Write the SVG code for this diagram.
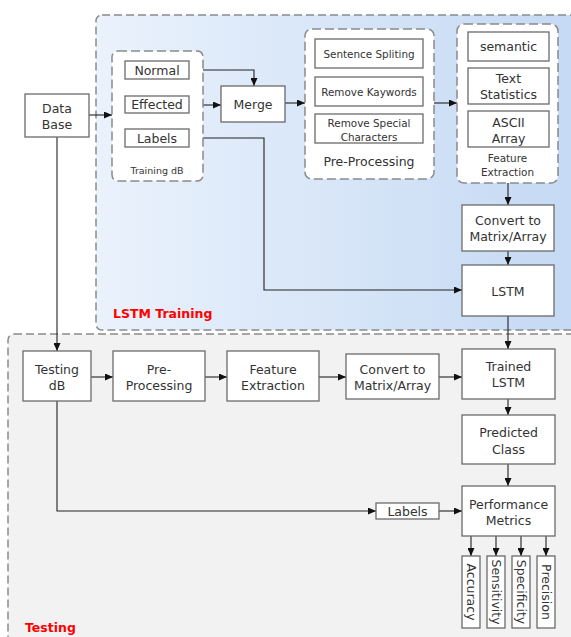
<svg xmlns="http://www.w3.org/2000/svg" width="571" height="637" viewBox="0 0 571 637">
  <defs>
    <linearGradient id="trainFill" x1="0" y1="0" x2="1" y2="0">
      <stop offset="0" stop-color="#eaf2fc"/>
      <stop offset="1" stop-color="#c3d8f3"/>
    </linearGradient>
    <marker id="arrow" markerWidth="8" markerHeight="7" refX="8" refY="3.5" orient="auto" markerUnits="userSpaceOnUse">
      <path d="M0,0 L8,3.5 L0,7 z" fill="#111"/>
    </marker>
    <style>
      .box { fill: #ffffff; stroke: #6a6a6a; stroke-width: 1.3; }
      .group { fill: #ffffff; stroke: #8a8a8a; stroke-width: 1.5; stroke-dasharray: 9 4; }
      .region { stroke: #8a8a8a; stroke-width: 1.5; stroke-dasharray: 8 4; }
      text { font-family: "DejaVu Sans", Verdana, sans-serif; font-size: 12.5px; fill: #333333; text-anchor: middle; dominant-baseline: central; }
      .small { font-size: 10.4px; }
      .tiny { font-size: 9.5px; }
      .title { font-weight: bold; fill: #ff0000; text-anchor: start; dominant-baseline: alphabetic; }
      .conn path { fill: none; stroke: #222222; stroke-width: 1.1; }
      .conn .a { marker-end: url(#arrow); }
    </style>
  </defs>

  <rect width="571" height="637" fill="#ffffff"/>

  <!-- regions -->
  <g id="lstm-training-region">
    <rect class="region" x="96" y="15" width="500" height="315" rx="6" fill="url(#trainFill)"/>
    <text class="title" x="113" y="318" font-size="11.5">LSTM Training</text>
  </g>
  <g id="testing-region">
    <rect class="region" x="8" y="334" width="600" height="330" rx="6" fill="#f2f2f2"/>
    <text class="title" x="25" y="632" font-size="12">Testing</text>
  </g>

  <!-- connectors -->
  <g id="connectors" class="conn">
    <path class="a" d="M89,115 H112"/>
    <path class="a" d="M189,70 H254 V86"/>
    <path class="a" d="M189,105 H221"/>
    <path class="a" d="M285,103 H305"/>
    <path class="a" d="M434,103 H457"/>
    <path class="a" d="M508,183 V205"/>
    <path class="a" d="M508,251 V265"/>
    <path class="a" d="M189,138 H264 V290 H462"/>
    <path class="a" d="M508,316 V349"/>
    <path class="a" d="M57,137 V351"/>
    <path class="a" d="M91,377 H113"/>
    <path class="a" d="M205,377 H227"/>
    <path class="a" d="M319,377 H346"/>
    <path class="a" d="M439,377 H462"/>
    <path class="a" d="M508,399 V415"/>
    <path class="a" d="M508,464 V486"/>
    <path class="a" d="M57,401 V511 H376"/>
    <path class="a" d="M439,511 H462"/>
    <path class="a" d="M471,536 V556"/>
    <path class="a" d="M496,536 V556"/>
    <path class="a" d="M521,536 V556"/>
    <path class="a" d="M546,536 V556"/>
  </g>

  <!-- training nodes -->
  <g id="data-base">
    <rect class="box" x="25" y="94" width="64" height="43"/>
    <text x="57" y="108.5">Data</text>
    <text x="57" y="124.5">Base</text>
  </g>

  <g id="training-db">
    <rect class="group" x="112" y="51" width="91" height="130" rx="6"/>
    <rect class="box" x="125" y="61" width="64" height="18"/>
    <text x="157" y="70">Normal</text>
    <rect class="box" x="125" y="96" width="64" height="17"/>
    <text x="157" y="104.5">Effected</text>
    <rect class="box" x="125" y="129" width="64" height="18"/>
    <text x="157" y="138">Labels</text>
    <text class="tiny" x="157" y="170">Training dB</text>
  </g>

  <g id="merge">
    <rect class="box" x="221" y="86" width="64" height="36"/>
    <text x="253" y="104">Merge</text>
  </g>

  <g id="pre-processing">
    <rect class="group" x="305" y="29" width="129" height="150" rx="7"/>
    <rect class="box" x="315" y="39" width="108" height="29"/>
    <text class="small" x="369" y="53.5">Sentence Spliting</text>
    <rect class="box" x="315" y="77" width="108" height="29"/>
    <text class="small" x="369" y="91.5">Remove Kaywords</text>
    <rect class="box" x="315" y="114" width="108" height="29"/>
    <text class="small" x="369" y="122.5">Remove Special</text>
    <text class="small" x="369" y="136.5">Characters</text>
    <text x="369" y="161">Pre-Processing</text>
  </g>

  <g id="feature-extraction">
    <rect class="group" x="457" y="24" width="101" height="159" rx="7"/>
    <rect class="box" x="468" y="32" width="81" height="29"/>
    <text x="508.5" y="46.5">semantic</text>
    <rect class="box" x="468" y="68" width="81" height="36"/>
    <text x="508.5" y="78.5">Text</text>
    <text x="508.5" y="94">Statistics</text>
    <rect class="box" x="468" y="111" width="81" height="36"/>
    <text x="508.5" y="122.5">ASCII</text>
    <text x="508.5" y="138">Array</text>
    <text class="small" x="507.5" y="158">Feature</text>
    <text class="small" x="507.5" y="172">Extraction</text>
  </g>

  <g id="convert-train">
    <rect class="box" x="462" y="205" width="92" height="46"/>
    <text x="508" y="220.5">Convert to</text>
    <text x="508" y="236.5">Matrix/Array</text>
  </g>

  <g id="lstm">
    <rect class="box" x="462" y="265" width="92" height="51"/>
    <text x="508" y="291">LSTM</text>
  </g>

  <!-- testing nodes -->
  <g id="testing-db">
    <rect class="box" x="23" y="351" width="68" height="50"/>
    <text x="57" y="369">Testing</text>
    <text x="57" y="385">dB</text>
  </g>

  <g id="pre-processing-test">
    <rect class="box" x="113" y="351" width="92" height="50"/>
    <text x="159" y="369">Pre-</text>
    <text x="159" y="385">Processing</text>
  </g>

  <g id="feature-extraction-test">
    <rect class="box" x="227" y="351" width="92" height="50"/>
    <text x="273" y="369">Feature</text>
    <text x="273" y="385">Extraction</text>
  </g>

  <g id="convert-test">
    <rect class="box" x="346" y="354" width="93" height="45"/>
    <text x="392.5" y="369">Convert to</text>
    <text x="392.5" y="385.5">Matrix/Array</text>
  </g>

  <g id="trained-lstm">
    <rect class="box" x="462" y="349" width="93" height="50"/>
    <text x="508.5" y="366">Trained</text>
    <text x="508.5" y="382">LSTM</text>
  </g>

  <g id="predicted-class">
    <rect class="box" x="462" y="415" width="93" height="49"/>
    <text x="508.5" y="432.5">Predicted</text>
    <text x="508.5" y="449">Class</text>
  </g>

  <g id="labels-test">
    <rect class="box" x="376" y="503" width="63" height="16"/>
    <text x="407.5" y="511">Labels</text>
  </g>

  <g id="performance-metrics">
    <rect class="box" x="462" y="486" width="93" height="50"/>
    <text x="508.5" y="504">Performance</text>
    <text x="508.5" y="520">Metrics</text>
  </g>

  <g id="accuracy">
    <rect class="box" x="462" y="556" width="18" height="72"/>
    <text transform="translate(471,592) rotate(90)">Accuracy</text>
  </g>
  <g id="sensitivity">
    <rect class="box" x="487" y="556" width="18" height="72"/>
    <text transform="translate(496,592) rotate(90)">Sensitivity</text>
  </g>
  <g id="specificity">
    <rect class="box" x="512" y="556" width="18" height="72"/>
    <text transform="translate(521,592) rotate(90)">Specificity</text>
  </g>
  <g id="precision">
    <rect class="box" x="537" y="556" width="18" height="72"/>
    <text transform="translate(546,592) rotate(90)">Precision</text>
  </g>
</svg>
